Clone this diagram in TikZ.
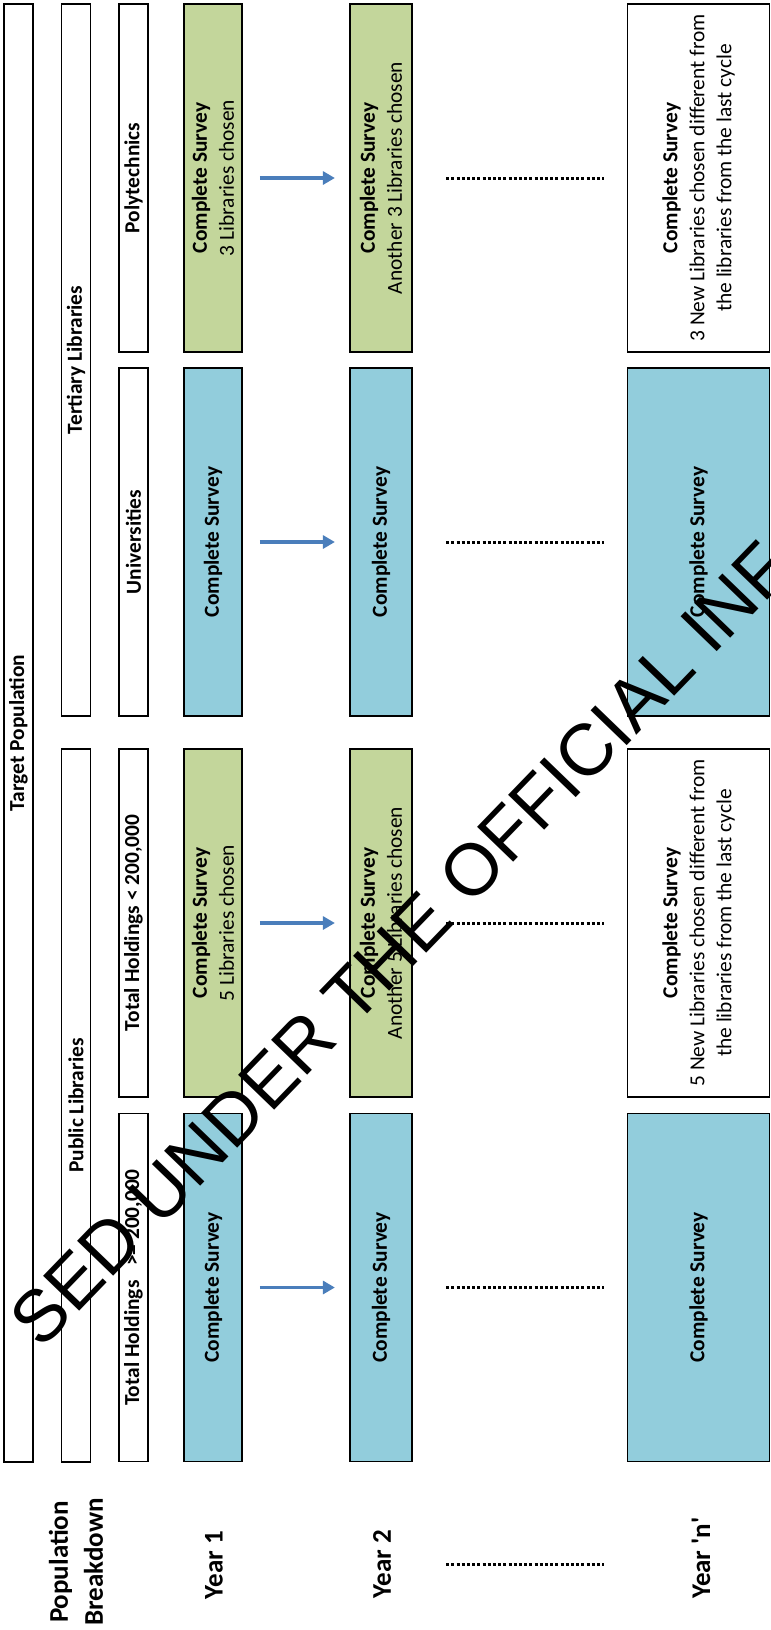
\documentclass[tikz,border=0pt]{standalone}
\usepackage{fontspec}
\setmainfont{Carlito}
\newfontfamily\wmfont{Liberation Sans}
\usetikzlibrary{arrows.meta}

\definecolor{surveyblue}{HTML}{92CDDC}
\definecolor{surveygreen}{HTML}{C3D69B}
\definecolor{flowblue}{HTML}{4A7EBB}

\newcommand{\cellsize}{\fontsize{10.7}{13.5}\selectfont}
\newcommand{\yearsize}{\fontsize{13.5}{17.5}\selectfont\bfseries}

\begin{document}
\begin{tikzpicture}[x=0.5pt, y=-0.5pt,
    cell/.style={draw, line width=0.7pt, rotate=90, inner sep=1pt, align=center, font=\cellsize},
    quarter/.style={cell, minimum width=174pt},
    narrow/.style={minimum height=14.5pt},
    yearone/.style={minimum height=29pt},
    yeartwo/.style={minimum height=31pt},
    yearlast/.style={minimum height=71pt},
    fullsurvey/.style={fill=surveyblue},
    sample/.style={fill=surveygreen},
    rowlabel/.style={rotate=90, align=center, font=\yearsize},
    flow/.style={-{Triangle[length=6pt,width=6.5pt]}, line width=1.6pt, flowblue,
                 shorten <=8.6pt, shorten >=7.2pt},
    dots/.style={line width=1.5pt, dash pattern=on 1.5pt off 1.1pt,
                 shorten <=16.7pt, shorten >=11.2pt},
    watermark/.style={rotate=46, inner sep=0pt, font=\wmfont\fontsize{36.5}{40}\selectfont}]

\clip (0,0) rectangle (771,1630);

% population breakdown
\node[cell, narrow, minimum width=729pt, font=\cellsize\bfseries] (target) at (18.5,733) {Target Population};
\node[cell, narrow, minimum width=356pt, font=\cellsize\bfseries] (tertiary) at (76,360) {Tertiary Libraries};
\node[cell, narrow, minimum width=356.5pt, font=\cellsize\bfseries] (public) at (76,1105.5) {Public Libraries};
\node[quarter, narrow, font=\cellsize\bfseries] (poly) at (133.5,178) {Polytechnics};
\node[quarter, narrow, font=\cellsize\bfseries] (uni) at (133.5,542) {Universities};
\node[quarter, narrow, font=\cellsize\bfseries] (small) at (133.5,923) {Total Holdings < 200,000};
\node[quarter, narrow, font=\cellsize\bfseries] (large) at (133.5,1287.5) {Total Holdings~~ >= 200,000};

% year 1
\node[quarter, yearone, sample] (y1a) at (213,178) {\textbf{Complete Survey}\\3 Libraries chosen};
\node[quarter, yearone, fullsurvey] (y1b) at (213,542) {\textbf{Complete Survey}};
\node[quarter, yearone, sample] (y1c) at (213,923) {\textbf{Complete Survey}\\5 Libraries chosen};
\node[quarter, yearone, fullsurvey] (y1d) at (213,1287.5) {\textbf{Complete Survey}};

% year 2
\node[quarter, yeartwo, sample] (y2a) at (381,178) {\textbf{Complete Survey}\\Another 3 Libraries chosen};
\node[quarter, yeartwo, fullsurvey] (y2b) at (381,542) {\textbf{Complete Survey}};
\node[quarter, yeartwo, sample] (y2c) at (381,923) {\textbf{Complete Survey}\\Another 5 Libraries chosen};
\node[quarter, yeartwo, fullsurvey] (y2d) at (381,1287.5) {\textbf{Complete Survey}};

% year n
\node[quarter, yearlast, fill=white] (yna) at (698.5,178) {\textbf{Complete Survey}\\3 New Libraries chosen different from\\the libraries from the last cycle};
\node[quarter, yearlast, fullsurvey] (ynb) at (698.5,542) {\textbf{Complete Survey}};
\node[quarter, yearlast, fill=white] (ync) at (698.5,923) {\textbf{Complete Survey}\\5 New Libraries chosen different from\\the libraries from the last cycle};
\node[quarter, yearlast, fullsurvey] (ynd) at (698.5,1287.5) {\textbf{Complete Survey}};

% row labels
\node[rowlabel] (breakdown) at (76,1562) {Population\\Breakdown};
\node[rowlabel] (yone) at (214,1565) {Year 1};
\node[rowlabel] (ytwo) at (382,1564) {Year 2};
\node[rowlabel] (ylast) at (701,1558) {Year \textquotesingle n\textquotesingle};

\draw[flow] (y1a.south) -- (y2a.north);
\draw[flow] (y1b.south) -- (y2b.north);
\draw[flow] (y1c.south) -- (y2c.north);
\draw[flow] (y1d.south) -- (y2d.north);

\draw[dots] (y2a.south) -- (yna.north);
\draw[dots] (y2b.south) -- (ynb.north);
\draw[dots] (y2c.south) -- (ync.north);
\draw[dots] (y2d.south) -- (ynd.north);
\draw[dots] (y2d.south |- ytwo) -- (ynd.north |- ytwo);

\node[watermark] (stamp) at (400,944) {SED UNDER THE OFFICIAL INF};

\end{tikzpicture}
\end{document}
